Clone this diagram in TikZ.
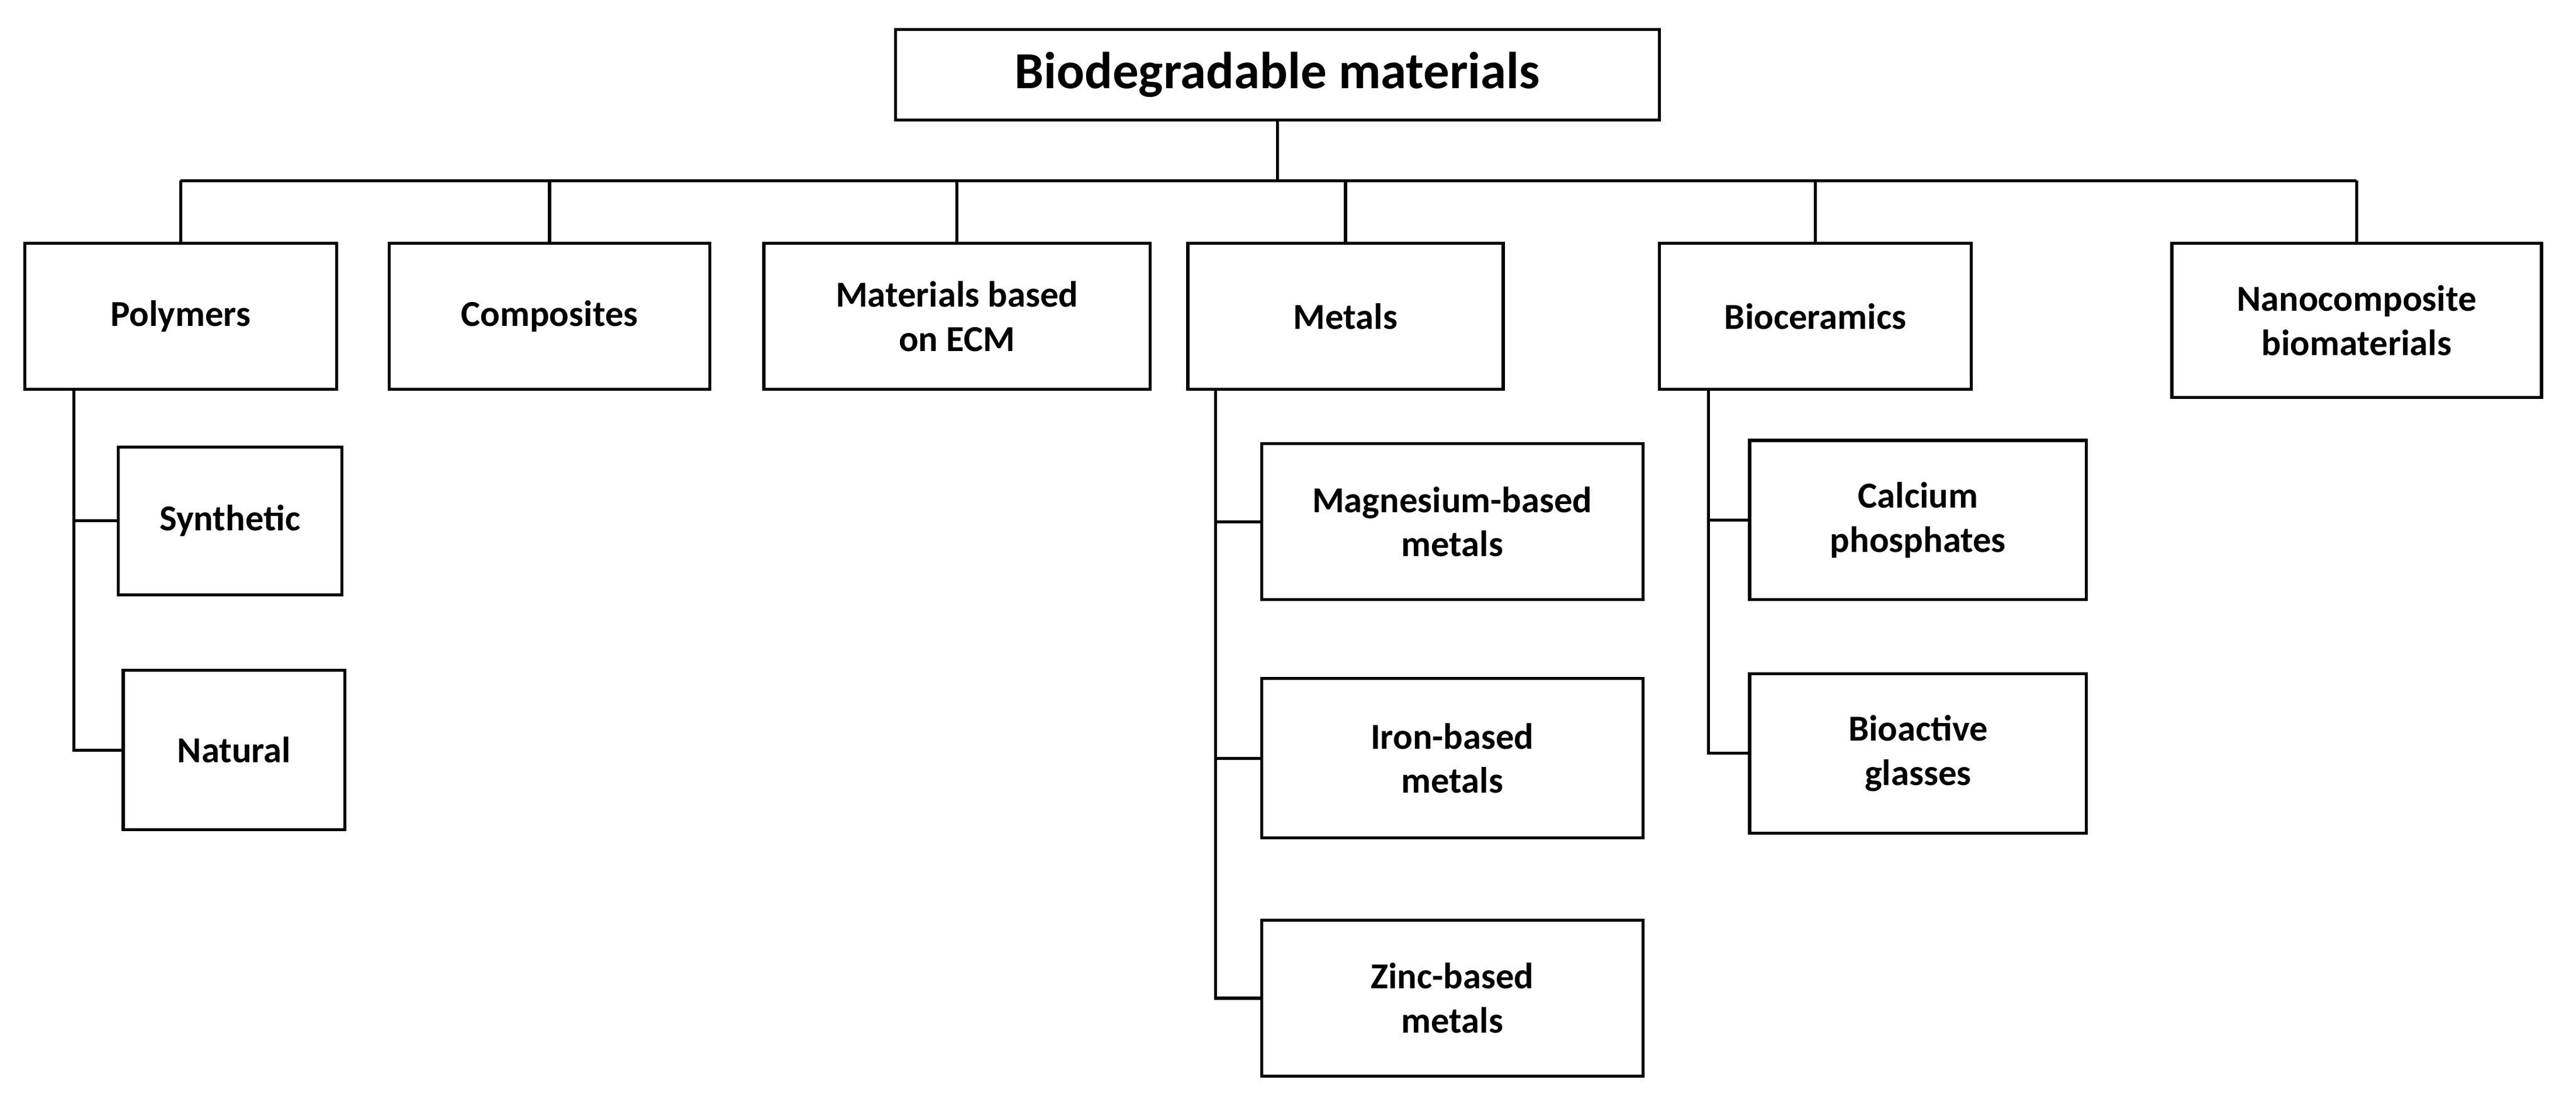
\documentclass[tikz,border=0pt]{standalone}
\usepackage{fontspec}
\setmainfont{Carlito}
\usetikzlibrary{calc}
\begin{document}
\begin{tikzpicture}[x=0.03cm,y=-0.03cm,
  bx/.style={draw,line width=1.6pt,align=center,inner sep=0pt,font=\bfseries\fontsize{19}{23}\selectfont},
  ln/.style={line width=1.6pt}]
\useasboundingbox (0,0) rectangle (1568,670);
\newcommand\bx[6]{\node[bx,minimum width={(#4-#2)*0.03cm},minimum height={(#5-#3)*0.03cm}] (#1) at ({(#2+#4)/2},{(#3+#5)/2}) {#6};}
\bx{top}{545}{18}{1010}{73}{\fontsize{27}{32}\selectfont Biodegradable materials}
\bx{poly}{15}{148}{205}{237}{Polymers}
\bx{comp}{237}{148}{432}{237}{Composites}
\bx{ecm}{465}{148}{700}{237}{Materials based\\on ECM}
\bx{met}{723}{148}{915}{237}{Metals}
\bx{bioc}{1010}{148}{1200}{237}{Bioceramics}
\bx{nano}{1322}{148}{1547}{242}{Nanocomposite\\biomaterials}
\bx{syn}{72}{272}{208}{362}{Synthetic}
\bx{nat}{75}{408}{210}{505}{Natural}
\bx{mg}{768}{270}{1000}{365}{Magnesium-based\\metals}
\bx{fe}{768}{413}{1000}{510}{Iron-based\\metals}
\bx{zn}{768}{560}{1000}{655}{Zinc-based\\metals}
\bx{ca}{1065}{268}{1270}{365}{Calcium\\phosphates}
\bx{bg}{1065}{410}{1270}{507}{Bioactive\\glasses}
\coordinate (bus) at (0,110);
\draw[ln] (top.south) -- (top.south |- bus);
\draw[ln] (poly.north |- bus) -- (nano.north |- bus);
\foreach \n in {poly,comp,ecm,met,bioc,nano} \draw[ln] (\n.north) -- (\n.north |- bus);
\coordinate (ps) at (45,237);
\coordinate (ms) at (740,237);
\coordinate (bs) at (1040,237);
\draw[ln] (ps) |- (syn.west); \draw[ln] (ps) |- (nat.west);
\draw[ln] (ms) |- (mg.west); \draw[ln] (ms) |- (fe.west); \draw[ln] (ms) |- (zn.west);
\draw[ln] (bs) |- (ca.west); \draw[ln] (bs) |- (bg.west);
\end{tikzpicture}
\end{document}
